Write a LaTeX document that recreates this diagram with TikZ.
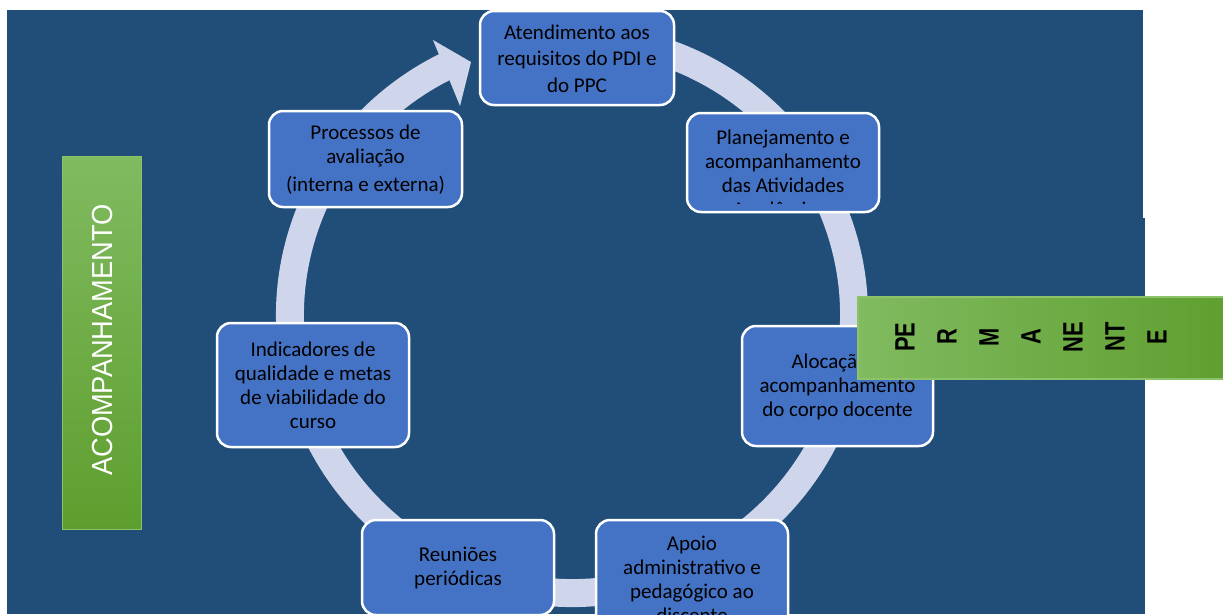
\documentclass[tikz,border=0pt]{standalone}
\usepackage{fontspec}
\setmainfont{Carlito}
\newfontfamily\permfont[FakeStretch=0.78]{Liberation Sans}
\newfontfamily\acompfont[FakeStretch=0.94]{Liberation Sans}
\definecolor{bgblue}{RGB}{32,78,121}
\definecolor{boxblue}{RGB}{68,114,196}
\definecolor{ringcol}{RGB}{207,213,234}
\definecolor{greenL}{RGB}{128,187,96}
\definecolor{greenD}{RGB}{94,158,46}
\definecolor{greenEdge}{RGB}{140,195,105}
\begin{document}
\begin{tikzpicture}[x=1pt,y=-1pt,
  box/.style={draw=white, line width=2.5pt, fill=boxblue, rounded corners=14pt,
    inner sep=0pt, align=center, text=black, font=\fontsize{21}{24}\selectfont},
  boxtext/.style={inner sep=0pt, align=center, text=black, font=\fontsize{21}{24}\selectfont},
]
\useasboundingbox (0,0) rectangle (1223,614);
\clip (0,0) rectangle (1223,614);
% background
\fill[bgblue] (7,10) rectangle (1143,218);
\fill[bgblue] (7,218) rectangle (1145,614);
% circular arrow
\coordinate (c) at (572,315);
\draw[ringcol, line width=28pt] (c) ++(-74:282 and 278)
  arc[start angle=-74, end angle=243.5, x radius=282, y radius=278];
\coordinate (ahA) at (433,40);
\coordinate (ahT) at (471,62);
\coordinate (ahB) at (460,106);
\fill[ringcol] (ahA) -- (ahT) -- (ahB) -- cycle;
% boxes
\node[box, minimum width=194, minimum height=94, font=\fontsize{21}{26.5}\selectfont] (top) at (577,58)
  {\rule{0pt}{16pt}Atendimento aos\\requisitos do PDI e\\do PPC};
\node[box, minimum width=193, minimum height=96] (proc) at (365.5,159)
  {\rule{0pt}{16pt}Processos de\\avaliação\\[4pt](interna e externa)};
\node[box, minimum width=192, minimum height=99] (plan) at (783,162.5) {};
\begin{scope}
  \clip (687,114) rectangle (879,203);
  \node[boxtext] (plantext) at (783,173.5)
    {Planejamento e\\acompanhamento\\das Atividades\\Acadêmicas};
\end{scope}
\node[box, minimum width=191, minimum height=120] (aloc) at (837.5,386)
  {\rule{0pt}{16pt}Alocação e\\acompanhamento\\do corpo docente};
\node[box, minimum width=192, minimum height=117] (apoio) at (692,578.5)
  {\rule{0pt}{16pt}Apoio\\administrativo e\\pedagógico ao\\discente};
\node[box, minimum width=192, minimum height=95] (reun) at (458,567.5)
  {\rule{0pt}{16pt}Reuniões\\periódicas};
\node[box, minimum width=192, minimum height=124] (ind) at (313,385)
  {\rule{0pt}{16pt}Indicadores de\\qualidade e metas\\de viabilidade do\\curso};
% green labels
\node[draw=greenEdge, line width=1pt, top color=greenL, bottom color=greenD,
  minimum width=79, minimum height=373, inner sep=0pt] (acomp) at (101.5,342.5) {};
\node[rotate=90, text=white, inner sep=0pt, font=\acompfont\fontsize{29}{29}\selectfont]
  (acomptext) at (103,340) {ACOMPANHAMENTO};
\node[draw=greenEdge, line width=1.5pt, left color=greenL, right color=greenD,
  minimum width=380, minimum height=82, inner sep=0pt] (perm) at (1048,338) {};
\node[rotate=90, text=black, inner sep=0pt, align=center,
  font=\permfont\bfseries\fontsize{28}{42}\selectfont]
  (permtext) at (1031,337) {PE\\R\\M\\A\\NE\\NT\\E};
\end{tikzpicture}
\end{document}
